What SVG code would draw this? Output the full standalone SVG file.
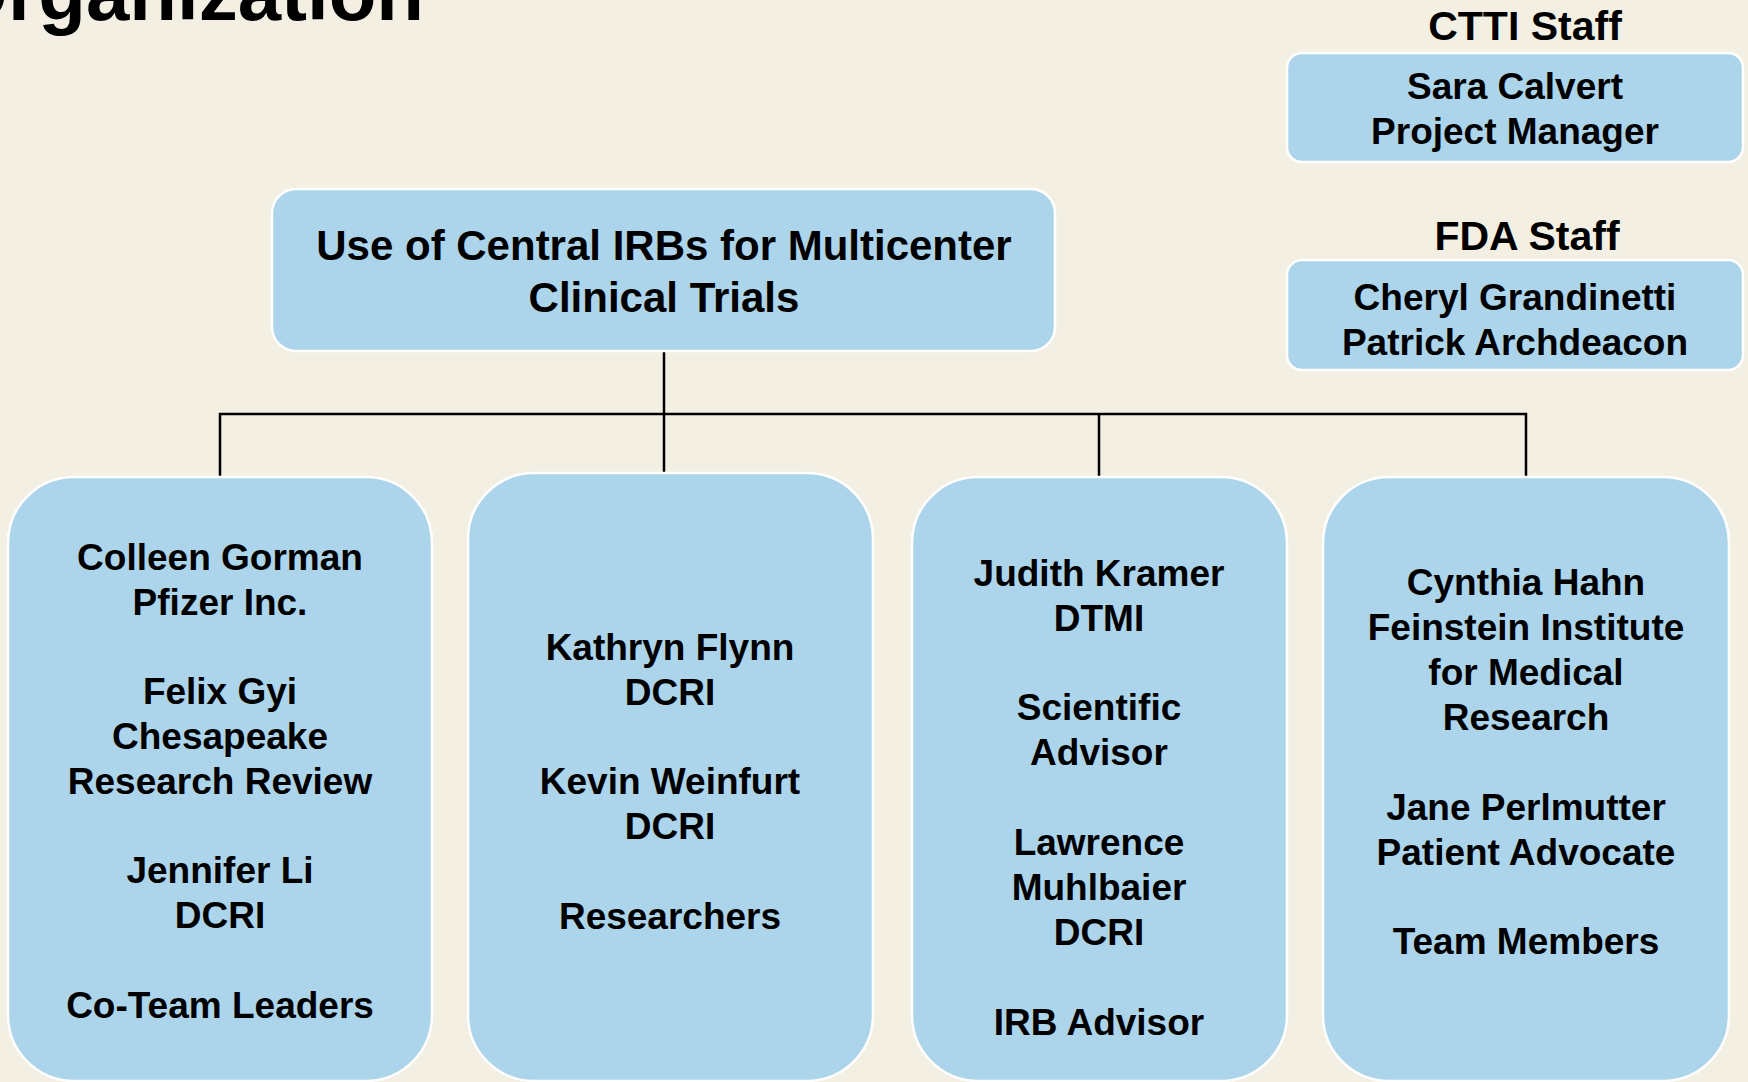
<svg xmlns="http://www.w3.org/2000/svg" width="1748" height="1082" viewBox="0 0 1748 1082">
  <style>
    text { font-family: "Liberation Sans", Arial, sans-serif; font-weight: bold; fill: #000; text-anchor: middle; }
    .box { fill: #acd4ea; stroke: #ffffff; stroke-width: 2.5; }
    .t37 { font-size: 37px; }
    .t41 { font-size: 41px; }
    .t42 { font-size: 42px; }
    .link { fill: none; stroke: #000; stroke-width: 2.5; }
  </style>

  <!-- page background -->
  <rect x="0" y="0" width="1748" height="1082" fill="#f3efe3"/>

  <!-- page heading, running off the top edge -->
  <text x="424" y="20" font-size="78" style="text-anchor:end">Organization</text>

  <!-- tree lines -->
  <g id="connectors">
    <path class="link" d="M664,351 V473"/>
    <path class="link" d="M220,477 V414 H1526 V477"/>
    <path class="link" d="M1099,414 V477"/>
  </g>

  <!-- root -->
  <g id="project">
    <rect class="box" x="272" y="189" width="783" height="162" rx="24"/>
    <text class="t42" x="664" y="260">Use of Central IRBs for Multicenter</text>
    <text class="t42" x="664" y="312">Clinical Trials</text>
  </g>

  <!-- co-team leaders -->
  <g id="leaders">
    <rect class="box" x="8" y="477" width="424" height="604" rx="66"/>
    <text class="t37" x="220" y="570">Colleen Gorman</text>
    <text class="t37" x="220" y="615">Pfizer Inc.</text>
    <text class="t37" x="220" y="704">Felix Gyi</text>
    <text class="t37" x="220" y="749">Chesapeake</text>
    <text class="t37" x="220" y="794">Research Review</text>
    <text class="t37" x="220" y="883">Jennifer Li</text>
    <text class="t37" x="220" y="928">DCRI</text>
    <text class="t37" x="220" y="1018">Co-Team Leaders</text>
  </g>

  <!-- researchers -->
  <g id="researchers">
    <rect class="box" x="468" y="473" width="405" height="608" rx="66"/>
    <text class="t37" x="670" y="660">Kathryn Flynn</text>
    <text class="t37" x="670" y="705">DCRI</text>
    <text class="t37" x="670" y="794">Kevin Weinfurt</text>
    <text class="t37" x="670" y="839">DCRI</text>
    <text class="t37" x="670" y="929">Researchers</text>
  </g>

  <!-- advisors -->
  <g id="advisors">
    <rect class="box" x="912" y="477" width="375" height="604" rx="66"/>
    <text class="t37" x="1099" y="586">Judith Kramer</text>
    <text class="t37" x="1099" y="631">DTMI</text>
    <text class="t37" x="1099" y="720">Scientific</text>
    <text class="t37" x="1099" y="765">Advisor</text>
    <text class="t37" x="1099" y="855">Lawrence</text>
    <text class="t37" x="1099" y="900">Muhlbaier</text>
    <text class="t37" x="1099" y="945">DCRI</text>
    <text class="t37" x="1099" y="1035">IRB Advisor</text>
  </g>

  <!-- team members -->
  <g id="members">
    <rect class="box" x="1323" y="477" width="406" height="604" rx="66"/>
    <text class="t37" x="1526" y="595">Cynthia Hahn</text>
    <text class="t37" x="1526" y="640">Feinstein Institute</text>
    <text class="t37" x="1526" y="685">for Medical</text>
    <text class="t37" x="1526" y="730">Research</text>
    <text class="t37" x="1526" y="820">Jane Perlmutter</text>
    <text class="t37" x="1526" y="865">Patient Advocate</text>
    <text class="t37" x="1526" y="954">Team Members</text>
  </g>

  <!-- staff panels -->
  <g id="ctti-staff">
    <text class="t41" x="1525" y="40">CTTI Staff</text>
    <rect class="box" x="1287" y="53" width="456" height="109" rx="15"/>
    <text class="t37" x="1515" y="99">Sara Calvert</text>
    <text class="t37" x="1515" y="144">Project Manager</text>
  </g>

  <g id="fda-staff">
    <text class="t41" x="1527" y="250">FDA Staff</text>
    <rect class="box" x="1287" y="260" width="456" height="110" rx="15"/>
    <text class="t37" x="1515" y="310">Cheryl Grandinetti</text>
    <text class="t37" x="1515" y="355">Patrick Archdeacon</text>
  </g>
</svg>
